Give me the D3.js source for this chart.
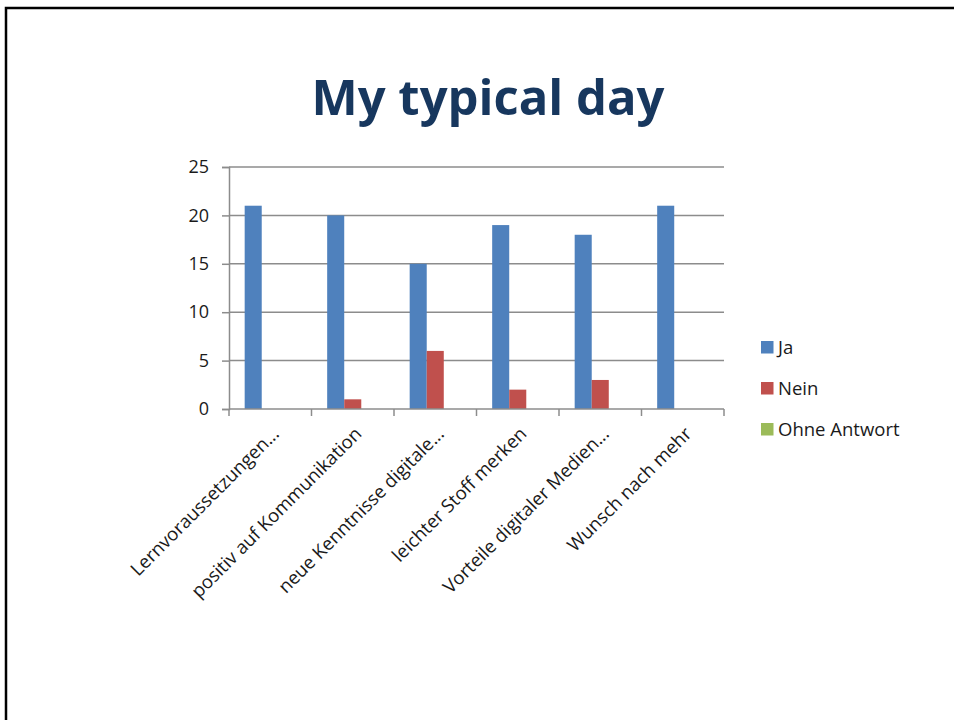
<!DOCTYPE html>
<html>
<head>
<meta charset="utf-8">
<script src="https://cdn.jsdelivr.net/npm/d3@7"></script>
<style>
  body { margin: 0; background: #fff; }
  text { font-family: "Open Sans", sans-serif; }
</style>
</head>
<body>
<div id="chart"></div>
<script>
var svgWidth = 954;
var svgHeight = 720;

// chart data
var categories = ["Lernvoraussetzungen...", "positiv auf Kommunikation", "neue Kenntnisse digitale...",
  "leichter Stoff merken", "Vorteile digitaler Medien...", "Wunsch nach mehr"];
var seriesNames = ["Ja", "Nein", "Ohne Antwort"];
var jaValues = [21, 20, 15, 19, 18, 21];
var neinValues = [0, 1, 6, 2, 3, 0];
var ohneValues = [0, 0, 0, 0, 0, 0];
var yTicks = [0, 5, 10, 15, 20, 25];
var colors = ["#4F81BD", "#C0504D", "#9BBB59"];

var margin = { top: 167, left: 229 };
var width = 495;
var height = 242;

var svg = d3.select("#chart")
  .append("svg")
  .attr("width", svgWidth)
  .attr("height", svgHeight);

// slide frame
svg.append("path")
  .attr("d", "M6,720 V8 H954")
  .attr("fill", "none")
  .attr("stroke", "#000")
  .attr("stroke-width", 2.5);

svg.append("text")
  .attr("x", 488)
  .attr("y", 115)
  .attr("text-anchor", "middle")
  .attr("font-size", 49)
  .attr("font-weight", "bold")
  .attr("fill", "#17375E")
  .text("My typical day");

var chartGroup = svg.append("g")
  .attr("transform", `translate(${margin.left}, ${margin.top})`);

var xScale = d3.scaleBand()
  .domain(categories)
  .range([0, width])
  .paddingInner(0.38)
  .paddingOuter(0.19);

var xInner = d3.scaleBand()
  .domain(seriesNames)
  .range([0, xScale.bandwidth()]);

var yScale = d3.scaleLinear()
  .domain([0, 25])
  .range([height, 0]);

// gridlines
chartGroup.append("g")
  .selectAll("line")
  .data(yTicks.slice(1))
  .enter()
  .append("line")
  .attr("x1", 0)
  .attr("x2", width)
  .attr("y1", d => yScale(d))
  .attr("y2", d => yScale(d))
  .attr("stroke", "#8c8c8c")
  .attr("stroke-width", 1.5);

// y axis
var leftAxis = d3.axisLeft(yScale).tickValues(yTicks).tickSize(7).tickPadding(13);
var yAxis = chartGroup.append("g").call(leftAxis);
yAxis.select(".domain").attr("stroke", "#8c8c8c").attr("stroke-width", 1.5);
yAxis.selectAll(".tick line").attr("stroke", "#8c8c8c").attr("stroke-width", 1.5);
yAxis.selectAll(".tick text")
  .attr("font-size", 18)
  .attr("fill", "#1a1a1a");

// bars
var series = [jaValues, neinValues, ohneValues];
var groups = chartGroup.append("g")
  .selectAll("g")
  .data(categories)
  .enter()
  .append("g")
  .attr("transform", d => `translate(${xScale(d)}, 0)`);

groups.selectAll("rect")
  .data((d, i) => seriesNames.map((s, j) => ({ key: s, value: series[j][i], idx: j })))
  .enter()
  .append("rect")
  .attr("x", d => xInner(d.key))
  .attr("width", xInner.bandwidth())
  .attr("y", d => yScale(d.value))
  .attr("height", d => height - yScale(d.value))
  .attr("fill", d => colors[d.idx]);

// x axis with boundary ticks
var boundaries = d3.range(categories.length + 1).map(i => i * width / categories.length);
var xAxisG = chartGroup.append("g").attr("transform", `translate(0, ${height})`);
xAxisG.append("line")
  .attr("x1", 0).attr("x2", width)
  .attr("stroke", "#8c8c8c").attr("stroke-width", 1.5);
xAxisG.selectAll(".bt")
  .data(boundaries)
  .enter()
  .append("line")
  .attr("class", "bt")
  .attr("x1", d => d).attr("x2", d => d)
  .attr("y1", 0).attr("y2", 7)
  .attr("stroke", "#8c8c8c").attr("stroke-width", 1.5);

xAxisG.selectAll(".xl")
  .data(categories)
  .enter()
  .append("text")
  .attr("class", "xl")
  .attr("text-anchor", "end")
  .attr("font-size", 18.5)
  .attr("fill", "#1a1a1a")
  .attr("transform", d => `translate(${xScale(d) + xScale.bandwidth() / 2 + 10}, 26) rotate(-45)`)
  .text(d => d);

// legend
var legend = svg.append("g").attr("transform", "translate(761, 341)");
var items = legend.selectAll("g")
  .data(seriesNames)
  .enter()
  .append("g")
  .attr("transform", (d, i) => `translate(0, ${i * 41})`);
items.append("rect")
  .attr("width", 12.5).attr("height", 12.5)
  .attr("fill", (d, i) => colors[i]);
items.append("text")
  .attr("x", 17)
  .attr("y", 13)
  .attr("font-size", 18.5)
  .attr("fill", "#1a1a1a")
  .text(d => d);
</script>
</body>
</html>
